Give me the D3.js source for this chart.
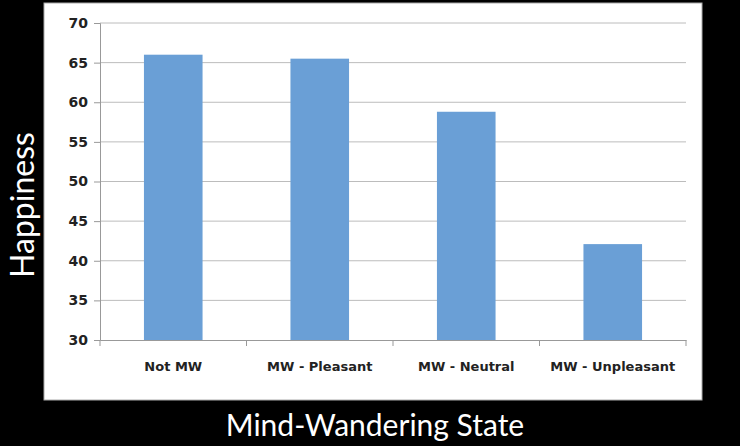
<!DOCTYPE html>
<html><head><meta charset="utf-8">
<script src="https://cdn.jsdelivr.net/npm/d3@7"></script>
<style>body{margin:0;background:#000}</style>
</head><body>
<div id="chart"></div>
<script>
var categories = ["Not MW", "MW - Pleasant", "MW - Neutral", "MW - Unpleasant"];
var happiness = [66, 65.5, 58.8, 42.1];
var yTicks = [30, 35, 40, 45, 50, 55, 60, 65, 70];

var W = 740, H = 446;
var svg = d3.select("#chart").append("svg").attr("width", W).attr("height", H);
svg.append("rect").attr("width", W).attr("height", H).attr("fill", "#000");
svg.append("rect").attr("x", 44).attr("y", 3).attr("width", 658).attr("height", 397)
  .attr("fill", "#fff").attr("stroke", "#aaa");

var x = d3.scaleBand().domain(categories).range([100, 686]).paddingInner(0.6).paddingOuter(0.3);
var y = d3.scaleLinear().domain([30, 70]).range([340, 23]);

svg.selectAll(".grid").data(yTicks.slice(1)).enter().append("line")
  .attr("x1", 100).attr("x2", 686)
  .attr("y1", function(d){return y(d);}).attr("y2", function(d){return y(d);})
  .attr("stroke", "#bcbcbc");

svg.selectAll(".bar").data(happiness).enter().append("rect")
  .attr("x", function(d, i){return x(categories[i]);})
  .attr("width", x.bandwidth())
  .attr("y", function(d){return y(d);})
  .attr("height", function(d){return y(30) - y(d);})
  .attr("fill", "#6a9fd6");

var ya = svg.append("g").attr("transform", "translate(100,0)")
  .call(d3.axisLeft(y).tickValues(yTicks).tickSize(6).tickPadding(6));
var xa = svg.append("g").attr("transform", "translate(0,340)")
  .call(d3.axisBottom(x).tickSize(0).tickPadding(22));
[ya, xa].forEach(function(a){
  a.select(".domain").attr("stroke", "#999");
  a.selectAll("line").attr("stroke", "#999");
  a.selectAll("text").attr("fill", "#222").attr("font-family", "DejaVu Sans")
    .attr("font-size", 13).attr("font-weight", "bold");
});
ya.selectAll("text").attr("font-size", 14);
// category separator ticks
svg.selectAll(".sep").data(d3.range(5)).enter().append("line")
  .attr("x1", function(i){return 100 + i * x.step();}).attr("x2", function(i){return 100 + i * x.step();})
  .attr("y1", 340).attr("y2", 346).attr("stroke", "#999");

svg.append("text").attr("transform", "translate(34,205) rotate(-90)")
  .attr("text-anchor", "middle").attr("fill", "#fff")
  .attr("font-family", "Lato").attr("font-size", 32).text("Happiness");
svg.append("text").attr("x", 375).attr("y", 436)
  .attr("text-anchor", "middle").attr("fill", "#fff")
  .attr("font-family", "Lato").attr("font-size", 30).text("Mind-Wandering State");
</script>
</body></html>
